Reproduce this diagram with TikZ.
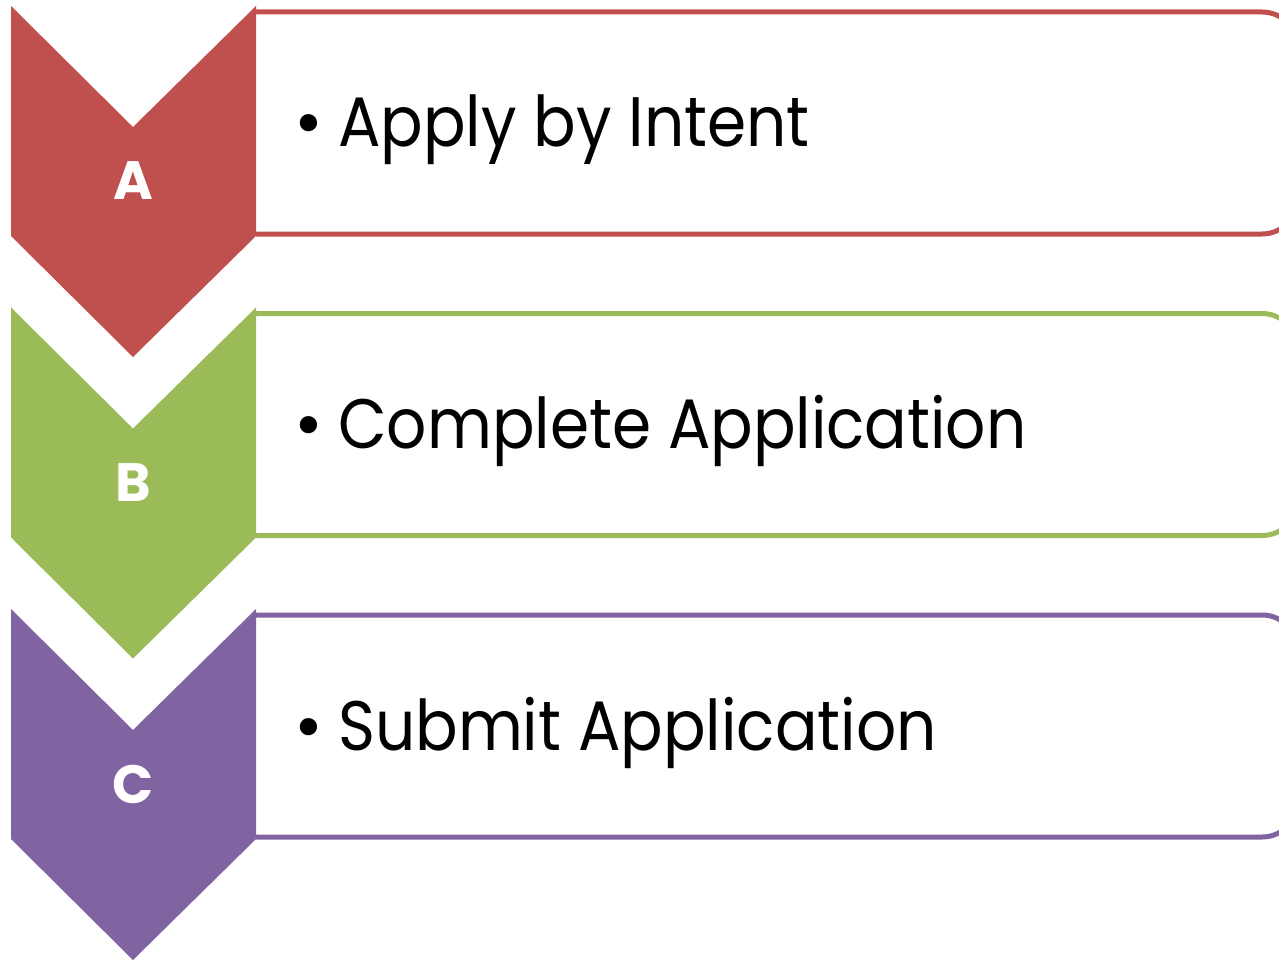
\documentclass[tikz,border=0pt]{standalone}
\usepackage{fontspec}
\setmainfont{Poppins}
\newfontfamily\itemfont[FakeStretch=0.9]{Poppins}
\definecolor{stepred}{HTML}{C0504D}
\definecolor{stepgreen}{HTML}{9BBB59}
\definecolor{steppurple}{HTML}{8064A2}
\begin{document}
\begin{tikzpicture}[x=1pt,y=-1pt,
  panel/.style={draw=#1, line width=5pt, fill=white, rounded corners=36pt},
  chev/.style={fill=#1, draw=none},
  letter/.style={text=white, font=\bfseries\fontsize{54}{54}\selectfont, inner sep=0pt},
  item/.style={anchor=base west, inner sep=0pt, font=\itemfont\fontsize{70}{70}\selectfont},
  dot/.style={anchor=base, inner sep=0pt, font=\fontsize{70}{70}\selectfont}]
\useasboundingbox (0,0) rectangle (1279,960);
\clip (0,0) rectangle (1279,960);
% one row per step: colour, top of the chevron, letter, label
\foreach \col/\tp/\ltr/\lab/\nm in {stepred/6/A/Apply by Intent/a,
                                 stepgreen/307.5/B/Complete Application/b,
                                 steppurple/609/C/Submit Application/c}{
  % box open on the left, rounded on the right
  \filldraw[panel=\col] (256,\tp+6) -- (1298,\tp+6) -- (1298,\tp+228) -- (256,\tp+228);
  \fill[chev=\col] (11,\tp) -- (133,\tp+121) -- (256,\tp) -- (256,\tp+230)
        -- (133,\tp+351) -- (11,\tp+230) -- cycle;
  \node[letter] (let\nm) at (133,\tp+175) {\ltr};
  \node[dot] (dot\nm) at (309,\tp+141) {•};
  \node[item] (lab\nm) at (338,\tp+141) {\lab};
}
\end{tikzpicture}
\end{document}
